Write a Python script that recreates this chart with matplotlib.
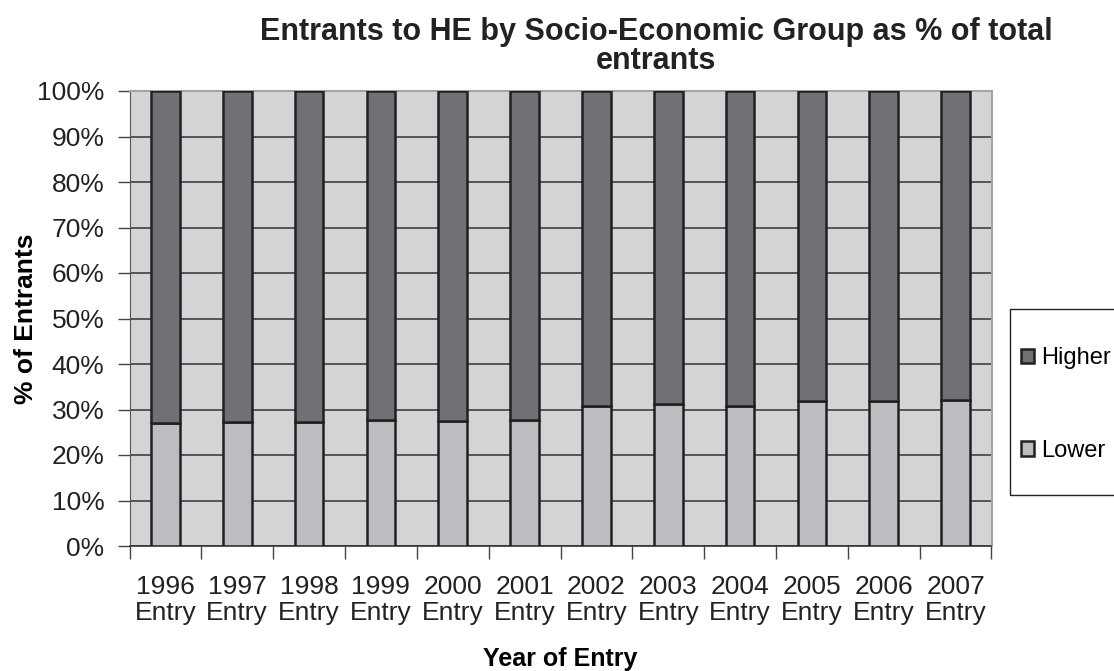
import numpy as np
import matplotlib
matplotlib.use('Agg')
import matplotlib.pyplot as plt
from matplotlib.patches import Rectangle
from matplotlib.ticker import FuncFormatter, FixedLocator

plt.rcParams['font.family'] = ['Liberation Sans', 'DejaVu Sans']

# ── Data ──────────────────────────────────────────────────────────────────────
years = ['1996', '1997', '1998', '1999', '2000', '2001',
         '2002', '2003', '2004', '2005', '2006', '2007']
lower = [27.0, 27.3, 27.3, 27.6, 27.5, 27.8,
         30.7, 31.1, 30.8, 31.9, 31.9, 32.1]
higher = [100 - v for v in lower]

tick_labels = [f'{y}\nEntry' for y in years]

# ── Colours ───────────────────────────────────────────────────────────────────
BG      = '#d3d4d6'
C_HIGH  = '#707174'
C_LOW   = '#bcbdc0'
EDGE    = '#231f20'
GRID    = '#333333'

W, H = 1114, 671
fig = plt.figure(figsize=(W / 100, H / 100), dpi=100)
ax = fig.add_axes([129.5 / W, 1 - 546 / H, 862 / W, 455 / H])
ax.set_facecolor(BG)

x = np.arange(len(years))
b_low = ax.bar(x, lower, width=0.4, color=C_LOW, edgecolor=EDGE,
               linewidth=1.8, zorder=3, label='Lower')
b_high = ax.bar(x, higher, width=0.4, bottom=lower, color=C_HIGH,
                edgecolor=EDGE, linewidth=1.8, zorder=3, label='Higher')

ax.set_xlim(-0.5, len(years) - 0.5)
ax.set_ylim(0, 100)

# y axis
ax.set_yticks(np.arange(0, 101, 10))
ax.yaxis.set_major_formatter(FuncFormatter(lambda v, p: f'{v:.0f}%'))
ax.tick_params(axis='y', direction='out', length=9, width=1, color='#444444',
               labelsize=19, pad=9, labelcolor='#222222')
ax.yaxis.grid(True, color=GRID, linewidth=1.1, zorder=1)
ax.set_axisbelow(True)

# x axis: labels under bars, ticks on category boundaries
ax.set_xticks(x)
ax.set_xticklabels(tick_labels, fontsize=19, color='#222222', linespacing=1.08)
ax.tick_params(axis='x', which='major', length=0, pad=21)
ax.xaxis.set_minor_locator(FixedLocator(np.arange(-0.5, len(years), 1.0)))
ax.tick_params(axis='x', which='minor', direction='out', length=9, width=1,
               color='#444444')

for side in ('top', 'right'):
    ax.spines[side].set_color('#a3a4a6')
    ax.spines[side].set_linewidth(1.5)
ax.spines['left'].set_color('#555555')
ax.spines['bottom'].set_color('#333333')
ax.spines['bottom'].set_linewidth(1.2)

ax.set_ylabel('% of Entrants', fontsize=19, fontweight='bold')
ax.yaxis.set_label_coords(-0.106, 0.5)
ax.set_xlabel('Year of Entry', fontsize=18, fontweight='bold', labelpad=16)

fig.text(656 / W, 1 - 17 / H,
         'Entrants to HE by Socio-Economic Group as % of total\nentrants',
         ha='center', va='top', fontsize=22, fontweight='bold',
         color='#222222', linespacing=0.97)

# legend (frame drawn separately so it can run past the right edge)
fig.patches.append(Rectangle((1010 / W, 1 - 495 / H), 0.2, 186 / H,
                             transform=fig.transFigure, fill=False,
                             edgecolor='#222222', linewidth=1.0))
fig.legend([b_high, b_low], ['Higher', 'Lower'], loc='upper left',
           bbox_to_anchor=(1021 / W, 1 - 347 / H), frameon=False,
           fontsize=17, handlelength=0.55, handleheight=0.55, handletextpad=0.3,
           labelspacing=3.0, borderpad=0, borderaxespad=0)

fig.savefig('out.png', dpi=100)
